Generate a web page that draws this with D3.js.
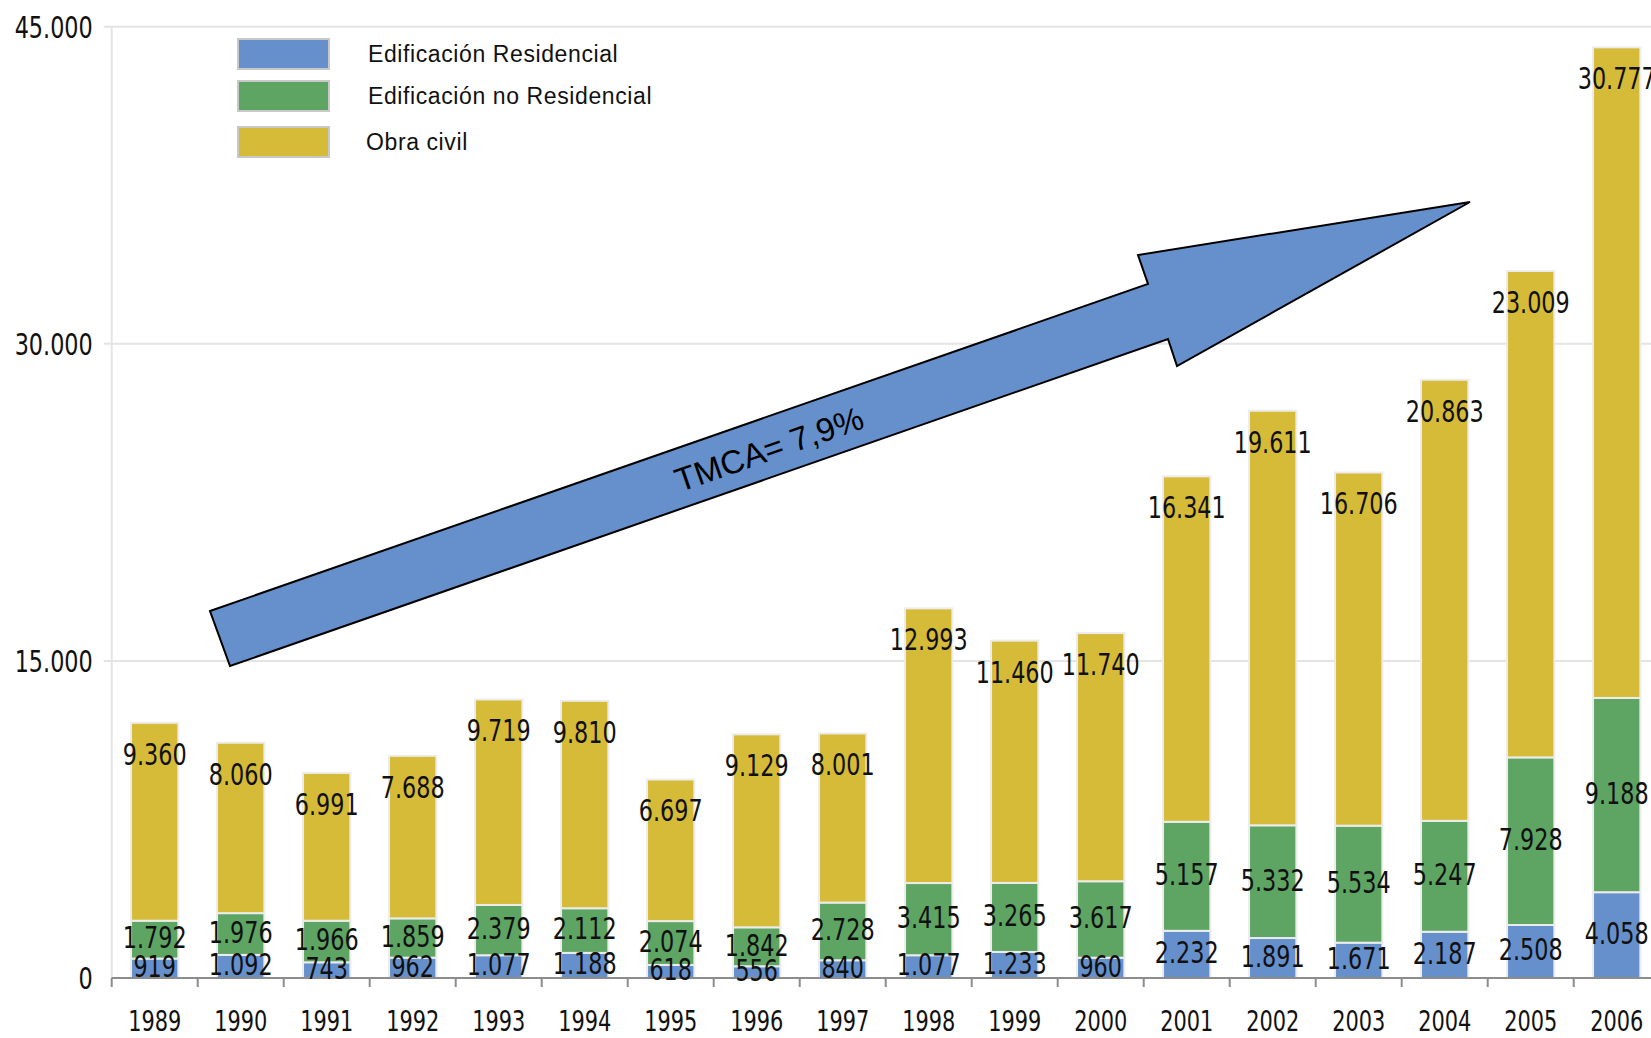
<!DOCTYPE html>
<html>
<head>
<meta charset="utf-8">
<script src="https://cdn.jsdelivr.net/npm/d3@7"></script>
<style>
  body { margin: 0; background: #fff; }
  svg { display: block; }
  .num { font-family: "DejaVu Sans", sans-serif; font-stretch: condensed; font-size: 31px; fill: #111; }
  .year { font-size: 29px; }
  .legendText { font-family: "Liberation Sans", sans-serif; font-size: 23px; letter-spacing: 0.6px; fill: #111; }
</style>
</head>
<body>
<svg id="chart"></svg>
<script>

/////////////////////////////////
// DATA
//////////////////////////////////

var years = ["1989", "1990", "1991", "1992", "1993", "1994", "1995", "1996", "1997",
             "1998", "1999", "2000", "2001", "2002", "2003", "2004", "2005", "2006"];

var residencial   = [919, 1092, 743, 962, 1077, 1188, 618, 556, 840, 1077, 1233, 960, 2232, 1891, 1671, 2187, 2508, 4058];
var noResidencial = [1792, 1976, 1966, 1859, 2379, 2112, 2074, 1842, 2728, 3415, 3265, 3617, 5157, 5332, 5534, 5247, 7928, 9188];
var obraCivil     = [9360, 8060, 6991, 7688, 9719, 9810, 6697, 9129, 8001, 12993, 11460, 11740, 16341, 19611, 16706, 20863, 23009, 30777];

var seriesNames = ["Edificación Residencial", "Edificación no Residencial", "Obra civil"];
var yTicks = [0, 15000, 30000, 45000];
var arrowLabel = "TMCA= 7,9%";


/////////////////////////////////
// SIZES
//////////////////////////////////

var width = 1651;
var height = 1038;
var plotLeft = 111.7;
var plotTop = 26.7;
var plotBottom = 978;
var squeeze = 0.8; // the original numbers use a tall narrow face

var svg = d3.select("#chart")
  .attr("width", width)
  .attr("height", height);

svg.append("rect")
  .attr("width", width)
  .attr("height", height)
  .attr("fill", "#fff");

var colors = ["#6690cb", "#5ea463", "#d6bb38"];

// spanish number format, 45.000
var locale = d3.formatLocale({ decimal: ",", thousands: ".", grouping: [3], currency: ["", ""] });
var fmt = locale.format(",d");

function placeAt(x, y) {
  return "translate(" + x + "," + y + ") scale(" + squeeze + ",1)";
}


/////////////////////////////////
// SCALES
//////////////////////////////////

var xScale = d3.scaleBand()
  .domain(years)
  .range([plotLeft, plotLeft + 86 * years.length])
  .paddingInner(0.45)
  .paddingOuter(0.225);

var yScale = d3.scaleLinear()
  .domain([0, 45000])
  .range([plotBottom, plotTop]);

// build rows for the stack
var rows = years.map(function(y, i) {
  return { year: y, res: residencial[i], nores: noResidencial[i], civil: obraCivil[i] };
});

var stack = d3.stack().keys(["res", "nores", "civil"]);
var stacked = stack(rows);


/////////////////////////////////
// GRID + AXES
//////////////////////////////////

svg.append("g")
  .selectAll("line")
  .data(yTicks.filter(function(d) { return d > 0; }))
  .enter()
  .append("line")
    .attr("x1", plotLeft - 8)
    .attr("x2", width)
    .attr("y1", function(d) { return yScale(d); })
    .attr("y2", function(d) { return yScale(d); })
    .attr("stroke", "#e4e4e4")
    .attr("stroke-width", 2);

// y axis line
svg.append("line")
  .attr("x1", plotLeft).attr("x2", plotLeft)
  .attr("y1", plotTop).attr("y2", plotBottom)
  .attr("stroke", "#e4e4e4")
  .attr("stroke-width", 2);

var yAxis = svg.append("g")
  .attr("transform", "translate(" + (plotLeft - 19) + ",0)")
  .call(d3.axisLeft(yScale).tickValues(yTicks).tickSize(0).tickFormat(fmt));
yAxis.select(".domain").remove();
yAxis.selectAll("text")
  .attr("class", "num")
  .attr("font-size", null)
  .attr("font-family", null)
  .attr("x", 0)
  .attr("dy", "0.35em")
  .attr("transform", "scale(" + squeeze + ",1)");


/////////////////////////////////
// BARS
//////////////////////////////////

var layers = svg.append("g")
  .selectAll("g")
  .data(stacked)
  .enter()
  .append("g")
    .attr("fill", function(d, i) { return colors[i]; });

layers.selectAll("rect")
  .data(function(d) { return d; })
  .enter()
  .append("rect")
    .attr("x", function(d) { return xScale(d.data.year); })
    .attr("width", xScale.bandwidth())
    .attr("y", function(d) { return yScale(d[1]); })
    .attr("height", function(d) { return yScale(d[0]) - yScale(d[1]); })
    .attr("stroke", "#ececec")
    .attr("stroke-width", 2);

// x axis line with ticks between bars
var step = xScale.step();
svg.append("line")
  .attr("x1", plotLeft).attr("x2", width)
  .attr("y1", plotBottom).attr("y2", plotBottom)
  .attr("stroke", "#8c8c8c")
  .attr("stroke-width", 2);

svg.append("g")
  .selectAll("line")
  .data(d3.range(years.length + 1))
  .enter()
  .append("line")
    .attr("x1", function(i) { return plotLeft + i * step; })
    .attr("x2", function(i) { return plotLeft + i * step; })
    .attr("y1", plotBottom)
    .attr("y2", plotBottom + 9)
    .attr("stroke", "#8c8c8c")
    .attr("stroke-width", 2);

svg.append("g")
  .selectAll("text")
  .data(years)
  .enter()
  .append("text")
    .attr("class", "num year")
    .attr("text-anchor", "middle")
    .attr("transform", function(d) { return placeAt(xScale(d) + xScale.bandwidth() / 2, 1031); })
    .text(function(d) { return d; });


/////////////////////////////////
// VALUE LABELS
//////////////////////////////////

stacked.forEach(function(layer, k) {
  svg.append("g")
    .selectAll("text")
    .data(layer)
    .enter()
    .append("text")
      .attr("class", "num")
      .attr("text-anchor", "middle")
      .attr("transform", function(d) {
        var cx = xScale(d.data.year) + xScale.bandwidth() / 2;
        var cy;
        if (k == 2) cy = yScale(d[1]) + 31; // obra civil sits near the top
        else cy = (yScale(d[0]) + yScale(d[1])) / 2 - 2;
        return placeAt(cx, cy);
      })
      .attr("dy", "0.35em")
      .text(function(d) { return fmt(d[1] - d[0]); });
});


/////////////////////////////////
// LEGEND
//////////////////////////////////

var legendY = [39, 81, 127];
var legend = svg.append("g");

legend.selectAll("rect")
  .data(seriesNames)
  .enter()
  .append("rect")
    .attr("x", 238)
    .attr("y", function(d, i) { return legendY[i]; })
    .attr("width", 91)
    .attr("height", 30)
    .attr("fill", function(d, i) { return colors[i]; })
    .attr("stroke", "#c8c8c8")
    .attr("stroke-width", 2);

legend.selectAll("text")
  .data(seriesNames)
  .enter()
  .append("text")
    .attr("class", "legendText")
    .attr("x", function(d, i) { return i == 2 ? 366 : 368; })
    .attr("y", function(d, i) { return legendY[i] + 15; })
    .attr("dy", "0.35em")
    .text(function(d) { return d; });


/////////////////////////////////
// ARROW (annotation, not data)
//////////////////////////////////

var arrowPts = [[210, 611], [1148, 284], [1138, 255], [1470, 202], [1177, 366], [1168, 339], [230, 666]];

svg.append("path")
  .attr("d", d3.line()(arrowPts) + "Z")
  .attr("fill", "#6690cb")
  .attr("stroke", "#000")
  .attr("stroke-width", 2)
  .attr("stroke-linejoin", "miter");

var angle = Math.atan2(284 - 611, 1148 - 210) * 180 / Math.PI;
svg.append("text")
  .attr("transform", "translate(769,449) rotate(" + angle + ")")
  .attr("text-anchor", "middle")
  .attr("dy", "0.35em")
  .attr("font-family", "Liberation Sans, Arial, sans-serif")
  .attr("font-size", 33)
  .attr("fill", "#000")
  .text(arrowLabel);

</script>
</body>
</html>
